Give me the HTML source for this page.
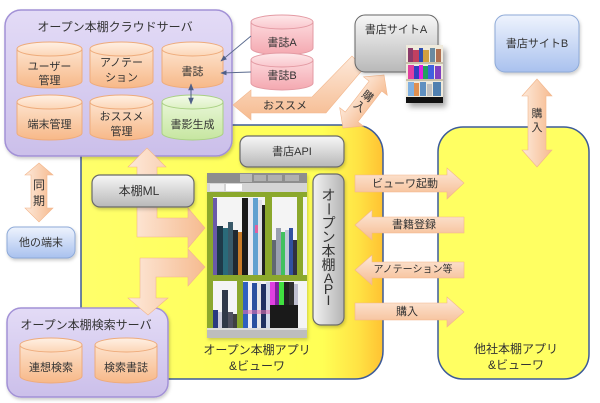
<!DOCTYPE html>
<html><head><meta charset="utf-8">
<style>
html,body{margin:0;padding:0;background:#fff;}
body{width:600px;height:403px;overflow:hidden;position:relative;}
svg{position:absolute;left:0;top:0;}
text{font-family:"Liberation Sans","Noto Sans CJK JP",sans-serif;fill:#333;}
</style></head><body>
<svg width="600" height="403" viewBox="0 0 600 403" xmlns="http://www.w3.org/2000/svg">
<defs>
<linearGradient id="yel" x1="0" y1="0" x2="1" y2="0">
<stop offset="0" stop-color="#ffff6a"/><stop offset="0.8" stop-color="#ffff55"/><stop offset="0.92" stop-color="#ffe244"/><stop offset="1" stop-color="#ffc232"/></linearGradient>
<linearGradient id="pur" x1="0" y1="0" x2="0" y2="1"><stop offset="0" stop-color="#e3dbf6"/><stop offset="1" stop-color="#cbbfea"/></linearGradient>
<linearGradient id="org" x1="0" y1="0" x2="0" y2="1"><stop offset="0" stop-color="#fde3cd"/><stop offset="1" stop-color="#f7b888"/></linearGradient>
<linearGradient id="orgT" x1="0" y1="0" x2="0" y2="1"><stop offset="0" stop-color="#fff0e4"/><stop offset="1" stop-color="#fcd6b6"/></linearGradient>
<linearGradient id="grn" x1="0" y1="0" x2="0" y2="1"><stop offset="0" stop-color="#e8f6d6"/><stop offset="1" stop-color="#c6e6a0"/></linearGradient>
<linearGradient id="grnT" x1="0" y1="0" x2="0" y2="1"><stop offset="0" stop-color="#f4fbea"/><stop offset="1" stop-color="#dcf0c2"/></linearGradient>
<linearGradient id="pnk" x1="0" y1="0" x2="0" y2="1"><stop offset="0" stop-color="#fcd8dc"/><stop offset="1" stop-color="#f4a8b0"/></linearGradient>
<linearGradient id="pnkT" x1="0" y1="0" x2="0" y2="1"><stop offset="0" stop-color="#fee8ea"/><stop offset="1" stop-color="#f9c6cc"/></linearGradient>
<linearGradient id="gry" x1="0" y1="0" x2="0" y2="1"><stop offset="0" stop-color="#f7f7f7"/><stop offset="1" stop-color="#b8b8b8"/></linearGradient>
<linearGradient id="gryH" x1="0" y1="0" x2="1" y2="0"><stop offset="0" stop-color="#f2f2f2"/><stop offset="1" stop-color="#b4b4b4"/></linearGradient>
<linearGradient id="blu" x1="0" y1="0" x2="0" y2="1"><stop offset="0" stop-color="#eef3fd"/><stop offset="1" stop-color="#a9c1ee"/></linearGradient>
<linearGradient id="pch" x1="0" y1="0" x2="0" y2="1"><stop offset="0" stop-color="#fde9da"/><stop offset="1" stop-color="#f6bb90"/></linearGradient>
<linearGradient id="pchH" x1="0" y1="0" x2="1" y2="0"><stop offset="0" stop-color="#fde9da"/><stop offset="1" stop-color="#f6bb90"/></linearGradient>
<marker id="ah" viewBox="0 0 10 10" refX="9" refY="5" markerWidth="7" markerHeight="7" orient="auto-start-reverse"><path d="M0,1 L10,5 L0,9 Z" fill="#4f5f88"/></marker>
<filter id="sh" x="-30%" y="-30%" width="170%" height="170%"><feDropShadow dx="3" dy="4" stdDeviation="3" flood-color="#000" flood-opacity="0.35"/></filter>
<filter id="sh2" x="-10%" y="-10%" width="130%" height="130%"><feDropShadow dx="1" dy="2" stdDeviation="1.5" flood-color="#000" flood-opacity="0.2"/></filter>
</defs>

<!-- yellow app boxes -->
<rect x="81" y="125" width="302" height="254" rx="28" fill="url(#yel)" stroke="#3d5b99" stroke-width="1.5"/>
<rect x="438" y="127" width="151" height="252" rx="25" fill="#ffff62" stroke="#3d5b99" stroke-width="1.5"/>

<!-- cloud server -->
<rect x="5" y="10" width="227" height="146" rx="16" fill="url(#pur)" stroke="#a291d6" stroke-width="1.5" filter="url(#sh2)"/>
<text x="115" y="27" font-size="12" text-anchor="middle" dominant-baseline="central">オープン本棚クラウドサーバ</text>

<g stroke="#eeab7b" stroke-width="1">
<path d="M17,49 L17,81 A32.5,7 0 0 0 82,81 L82,49 Z" fill="url(#org)"/><ellipse cx="49.5" cy="49" rx="32.5" ry="7" fill="url(#orgT)"/>
<path d="M90,49 L90,81 A31.5,7 0 0 0 153,81 L153,49 Z" fill="url(#org)"/><ellipse cx="121.5" cy="49" rx="31.5" ry="7" fill="url(#orgT)"/>
<path d="M162,49 L162,81 A30.5,7 0 0 0 223,81 L223,49 Z" fill="url(#org)"/><ellipse cx="192.5" cy="49" rx="30.5" ry="7" fill="url(#orgT)"/>
<path d="M17,102 L17,133 A32.5,7 0 0 0 82,133 L82,102 Z" fill="url(#org)"/><ellipse cx="49.5" cy="102" rx="32.5" ry="7" fill="url(#orgT)"/>
<path d="M90,102 L90,133 A31.5,7 0 0 0 153,133 L153,102 Z" fill="url(#org)"/><ellipse cx="121.5" cy="102" rx="31.5" ry="7" fill="url(#orgT)"/>
</g>
<g stroke="#a9d083" stroke-width="1">
<path d="M162,102 L162,133 A30.5,7 0 0 0 223,133 L223,102 Z" fill="url(#grn)"/><ellipse cx="192.5" cy="102" rx="30.5" ry="7" fill="url(#grnT)"/>
</g>
<g font-size="11" text-anchor="middle" dominant-baseline="central">
<text x="49.5" y="67">ユーザー</text><text x="49.5" y="81">管理</text>
<text x="121.5" y="63">アノテー</text><text x="121.5" y="78">ション</text>
<text x="192.5" y="72">書誌</text>
<text x="49.5" y="125">端末管理</text>
<text x="121.5" y="117">おススメ</text><text x="121.5" y="132">管理</text>
<text x="192.5" y="125">書影生成</text>
</g>
<line x1="191" y1="84" x2="191" y2="104" stroke="#4f5f88" stroke-width="1" marker-start="url(#ah)" marker-end="url(#ah)"/>

<!-- pink cylinders -->
<g stroke="#e39aa3" stroke-width="1">
<path d="M251,22 L251,48 A31,7 0 0 0 313,48 L313,22 Z" fill="url(#pnk)"/><ellipse cx="282" cy="22" rx="31" ry="7" fill="url(#pnkT)"/>
<path d="M251,60 L251,83 A31,7 0 0 0 313,83 L313,60 Z" fill="url(#pnk)"/><ellipse cx="282" cy="60" rx="31" ry="7" fill="url(#pnkT)"/>
</g>
<g font-size="11" text-anchor="middle" dominant-baseline="central">
<text x="282" y="43">書誌A</text><text x="282" y="76">書誌B</text>
</g>
<line x1="251" y1="36" x2="221" y2="61" stroke="#5a6a8e" stroke-width="0.9" marker-end="url(#ah)"/>
<line x1="251" y1="72" x2="221" y2="73" stroke="#5a6a8e" stroke-width="0.9" marker-end="url(#ah)"/>

<!-- search server -->
<rect x="7" y="308" width="161" height="89" rx="14" fill="url(#pur)" stroke="#a291d6" stroke-width="1.5" filter="url(#sh2)"/>
<text x="86" y="325" font-size="12" text-anchor="middle" dominant-baseline="central">オープン本棚検索サーバ</text>
<g stroke="#eeab7b" stroke-width="1">
<path d="M20,345 L20,376 A31,7 0 0 0 82,376 L82,345 Z" fill="url(#org)"/><ellipse cx="51" cy="345" rx="31" ry="7" fill="url(#orgT)"/>
<path d="M95,345 L95,376 A31,7 0 0 0 157,376 L157,345 Z" fill="url(#org)"/><ellipse cx="126" cy="345" rx="31" ry="7" fill="url(#orgT)"/>
</g>
<g font-size="11" text-anchor="middle" dominant-baseline="central">
<text x="51" y="368">連想検索</text><text x="126" y="368">検索書誌</text>
</g>

<!-- 他の端末 -->
<rect x="7" y="227" width="68" height="31" rx="8" fill="url(#blu)" stroke="#8eaad8" stroke-width="1" filter="url(#sh2)"/>
<text x="41" y="243" font-size="11" text-anchor="middle" dominant-baseline="central">他の端末</text>

<!-- 同期 arrow -->
<polygon points="39,163 53,175 47,175 47,208 53,208 39,222 25,208 31,208 31,175 25,175" fill="url(#pchH)" stroke="#f2b68c" stroke-width="0.6"/>
<text x="39" y="185" font-size="12" text-anchor="middle" dominant-baseline="central">同</text>
<text x="39" y="201" font-size="12" text-anchor="middle" dominant-baseline="central">期</text>

<!-- big bent arrows -->
<polygon points="147,148 166,167 157,167 157,218 188,218 188,208 205,228 188,248 188,237 137,237 137,167 128,167" fill="url(#pchH)" stroke="#f2b68c" stroke-width="0.6"/>
<polygon points="205,267 188,286 188,277 156,277 156,298 168,298 148,315 128,298 140,298 140,258 188,258 188,249" fill="url(#pchH)" stroke="#f2b68c" stroke-width="0.6"/>

<!-- おススメ arrow -->
<polygon points="233,105 251,90 251,97 312,97 352,56 364,68 326,113 251,113 251,120" fill="url(#pch)" stroke="#f2b68c" stroke-width="0.6"/>
<text x="285" y="106" font-size="11" text-anchor="middle" dominant-baseline="central">おススメ</text>

<!-- 購入 diagonal -->
<g transform="translate(363.5,101.5) rotate(-52.3)">
<polygon points="-33.5,0 -19.5,-15 -19.5,-8 19.5,-8 19.5,-15 33.5,0 19.5,15 19.5,8 -19.5,8 -19.5,15" fill="url(#pch)" stroke="#f2b68c" stroke-width="0.6"/>
</g>
<g transform="translate(363.5,101.5) rotate(38)" font-size="11" text-anchor="middle" dominant-baseline="central">
<text x="0" y="-6">購</text><text x="0" y="7">入</text>
</g>

<!-- 書店サイトA -->
<rect x="355" y="15" width="83" height="57" rx="10" fill="url(#gry)" stroke="#666" stroke-width="1" filter="url(#sh2)"/>
<text x="396" y="30" font-size="11" text-anchor="middle" dominant-baseline="central">書店サイトA</text>
<g>
<rect x="406" y="45" width="37" height="58" fill="#efeadc" filter="url(#sh)"/>
<rect x="408" y="48" width="5" height="14" fill="#8a3a6a"/><rect x="413" y="50" width="6" height="12" fill="#c04060"/><rect x="419" y="48" width="4" height="14" fill="#3050b0"/><rect x="423" y="50" width="6" height="12" fill="#d0a040"/><rect x="430" y="48" width="5" height="14" fill="#6a8aa0"/><rect x="436" y="49" width="5" height="13" fill="#b07050"/>
<rect x="406" y="62" width="37" height="2" fill="#c8c0a8"/>
<rect x="408" y="65" width="6" height="14" fill="#e040a0"/><rect x="414" y="66" width="5" height="13" fill="#3040c0"/><rect x="419" y="65" width="4" height="14" fill="#e020e0"/><rect x="423" y="66" width="5" height="13" fill="#20a060"/><rect x="428" y="65" width="6" height="14" fill="#4060e0"/><rect x="435" y="66" width="6" height="13" fill="#8040c0"/>
<rect x="406" y="79" width="37" height="2" fill="#c8c0a8"/>
<rect x="408" y="82" width="6" height="14" fill="#80b0e0"/><rect x="414" y="83" width="5" height="13" fill="#e09050"/><rect x="420" y="82" width="6" height="14" fill="#6090c0"/><rect x="427" y="84" width="5" height="12" fill="#c0c0c0"/><rect x="433" y="82" width="8" height="14" fill="#5080b0"/>
<rect x="406" y="97" width="37" height="6" fill="#111"/>
</g>

<!-- 書店サイトB -->
<rect x="495" y="15" width="84" height="57" rx="10" fill="url(#blu)" stroke="#8eaad8" stroke-width="1" filter="url(#sh2)"/>
<text x="537" y="44" font-size="11" text-anchor="middle" dominant-baseline="central">書店サイトB</text>
<polygon points="537,79 552,96 546,96 546,150 552,150 537,167 522,150 528,150 528,96 522,96" fill="url(#pchH)" stroke="#f2b68c" stroke-width="0.6"/>
<text x="537" y="114" font-size="11" text-anchor="middle" dominant-baseline="central">購</text>
<text x="537" y="128" font-size="11" text-anchor="middle" dominant-baseline="central">入</text>

<!-- gray boxes -->
<rect x="240" y="136" width="104" height="31" rx="8" fill="url(#gry)" stroke="#6a6a6a" stroke-width="1.2" filter="url(#sh2)"/>
<text x="292" y="152" font-size="11" text-anchor="middle" dominant-baseline="central">書店API</text>
<rect x="92" y="175" width="102" height="32" rx="8" fill="url(#gry)" stroke="#6a6a6a" stroke-width="1.2" filter="url(#sh2)"/>
<text x="139" y="191" font-size="12" text-anchor="middle" dominant-baseline="central">本棚ML</text>
<rect x="313" y="174" width="31" height="151" rx="8" fill="url(#gryH)" stroke="#6a6a6a" stroke-width="1.2" filter="url(#sh2)"/>
<g font-size="14" text-anchor="middle" dominant-baseline="central">
<text x="328.5" y="195">オ</text>
<text x="328.5" y="209" transform="rotate(90 328.5 209)">ー</text>
<text x="328.5" y="223">プ</text>
<text x="328.5" y="237">ン</text>
<text x="328.5" y="251">本</text>
<text x="328.5" y="265">棚</text>
<text x="328.5" y="278">A</text>
<text x="328.5" y="289">P</text>
<text x="328.5" y="300">I</text>
</g>

<!-- screen -->
<g filter="url(#sh2)"><rect x="207" y="173" width="100" height="165" fill="#f4f4f4"/></g>
<rect x="207" y="173" width="100" height="10" fill="#8e8e8e"/>
<rect x="240" y="174" width="12" height="8" fill="#b8b8b8"/><rect x="254" y="175" width="12" height="6" fill="#b0b0b0"/><rect x="268" y="175" width="14" height="6" fill="#b0b0b0"/><rect x="285" y="175" width="14" height="6" fill="#b0b0b0"/>
<rect x="207" y="183" width="100" height="9" fill="#d4d4d4"/>
<rect x="210" y="184" width="14" height="7" fill="#eeeeee"/><rect x="226" y="184" width="16" height="7" fill="#ffffff"/>
<g fill="#8ba82c">
<rect x="207" y="192" width="100" height="5"/>
<rect x="207" y="192" width="6" height="136"/>
<rect x="265" y="192" width="7" height="83"/>
<rect x="297" y="192" width="6" height="83"/>
<rect x="207" y="275" width="100" height="6"/>
<rect x="237" y="281" width="6" height="47"/>
</g>
<!-- books top left -->
<rect x="213" y="198" width="4" height="77" fill="#6a5aa8"/>
<rect x="217" y="226" width="6" height="49" fill="#1e3a4a"/>
<rect x="223" y="228" width="5" height="47" fill="#2a6a7a"/>
<rect x="228" y="222" width="5" height="53" fill="#3a5a6a"/>
<rect x="233" y="230" width="5" height="45" fill="#202830"/>
<rect x="238" y="232" width="4" height="43" fill="#c87a28"/>
<rect x="242" y="198" width="6" height="77" fill="#1a1a1a"/>
<rect x="248" y="198" width="5" height="77" fill="#e8e8f0"/>
<rect x="253" y="198" width="5" height="77" fill="#60a0d0"/>
<rect x="255" y="225" width="3" height="8" fill="#e060a0"/>
<rect x="258" y="200" width="4" height="75" fill="#e0e0e8"/>
<rect x="262" y="205" width="3" height="70" fill="#202020"/>
<!-- books top right -->
<rect x="272" y="240" width="4" height="35" fill="#606870"/>
<rect x="276" y="228" width="5" height="47" fill="#9aa0b0"/>
<rect x="281" y="232" width="4" height="43" fill="#40c060"/>
<rect x="285" y="230" width="4" height="45" fill="#c0c8d8"/>
<rect x="289" y="228" width="4" height="47" fill="#3050a0"/>
<rect x="293" y="240" width="4" height="35" fill="#303040"/>
<!-- books bottom left -->
<rect x="222" y="290" width="6" height="38" fill="#303848"/>
<rect x="213" y="310" width="5" height="18" fill="#2a3a80"/>
<rect x="218" y="312" width="4" height="16" fill="#ccccdd"/>
<rect x="228" y="312" width="5" height="16" fill="#505060"/>
<rect x="233" y="314" width="4" height="14" fill="#404040"/>
<!-- books bottom right -->
<rect x="243" y="282" width="5" height="46" fill="#3060c0"/>
<rect x="248" y="282" width="4" height="46" fill="#f0f0f8"/>
<rect x="252" y="283" width="5" height="45" fill="#2a50a0"/>
<rect x="257" y="282" width="4" height="46" fill="#e8e8e8"/>
<rect x="261" y="284" width="5" height="44" fill="#203060"/>
<rect x="266" y="282" width="4" height="46" fill="#d0d8e8"/>
<rect x="270" y="282" width="5" height="46" fill="#e040e0"/>
<rect x="275" y="282" width="4" height="46" fill="#8020a0"/>
<rect x="279" y="282" width="5" height="46" fill="#40e040"/>
<rect x="284" y="282" width="5" height="46" fill="#202020"/>
<rect x="289" y="282" width="5" height="46" fill="#303030"/>
<rect x="294" y="284" width="4" height="44" fill="#c0c0d0"/>
<rect x="270" y="305" width="28" height="23" fill="#1a1a1a"/>
<rect x="243" y="310" width="27" height="4" fill="#e070b0" opacity="0.6"/>
<rect x="207" y="328" width="100" height="10" fill="#bdbdbd"/>
<rect x="207" y="328" width="100" height="2" fill="#dcdcdc"/>

<!-- interface arrows -->
<polygon points="355,175 447,175 447,168 464,183 447,199 447,192 355,192" fill="url(#pch)" stroke="#f2b68c" stroke-width="0.6"/>
<polygon points="355,225 372,210 372,217 464,217 464,233 372,233 372,240" fill="url(#pch)" stroke="#f2b68c" stroke-width="0.6"/>
<polygon points="355,270 372,255 372,262 464,262 464,278 372,278 372,285" fill="url(#pch)" stroke="#f2b68c" stroke-width="0.6"/>
<polygon points="355,303 447,303 447,297 464,312 447,327 447,320 355,320" fill="url(#pch)" stroke="#f2b68c" stroke-width="0.6"/>
<g font-size="11" text-anchor="middle" dominant-baseline="central">
<text x="405" y="184">ビューワ起動</text>
<text x="414" y="225">書籍登録</text>
<text x="413" y="270" font-size="10">アノテーション等</text>
<text x="407" y="312">購入</text>
</g>

<!-- app labels -->
<g font-size="12" text-anchor="middle" dominant-baseline="central">
<text x="257" y="350">オープン本棚アプリ</text>
<text x="257" y="366">&amp;ビューワ</text>
<text x="516" y="349">他社本棚アプリ</text>
<text x="516" y="365">&amp;ビューワ</text>
</g>
</svg>
</body></html>
